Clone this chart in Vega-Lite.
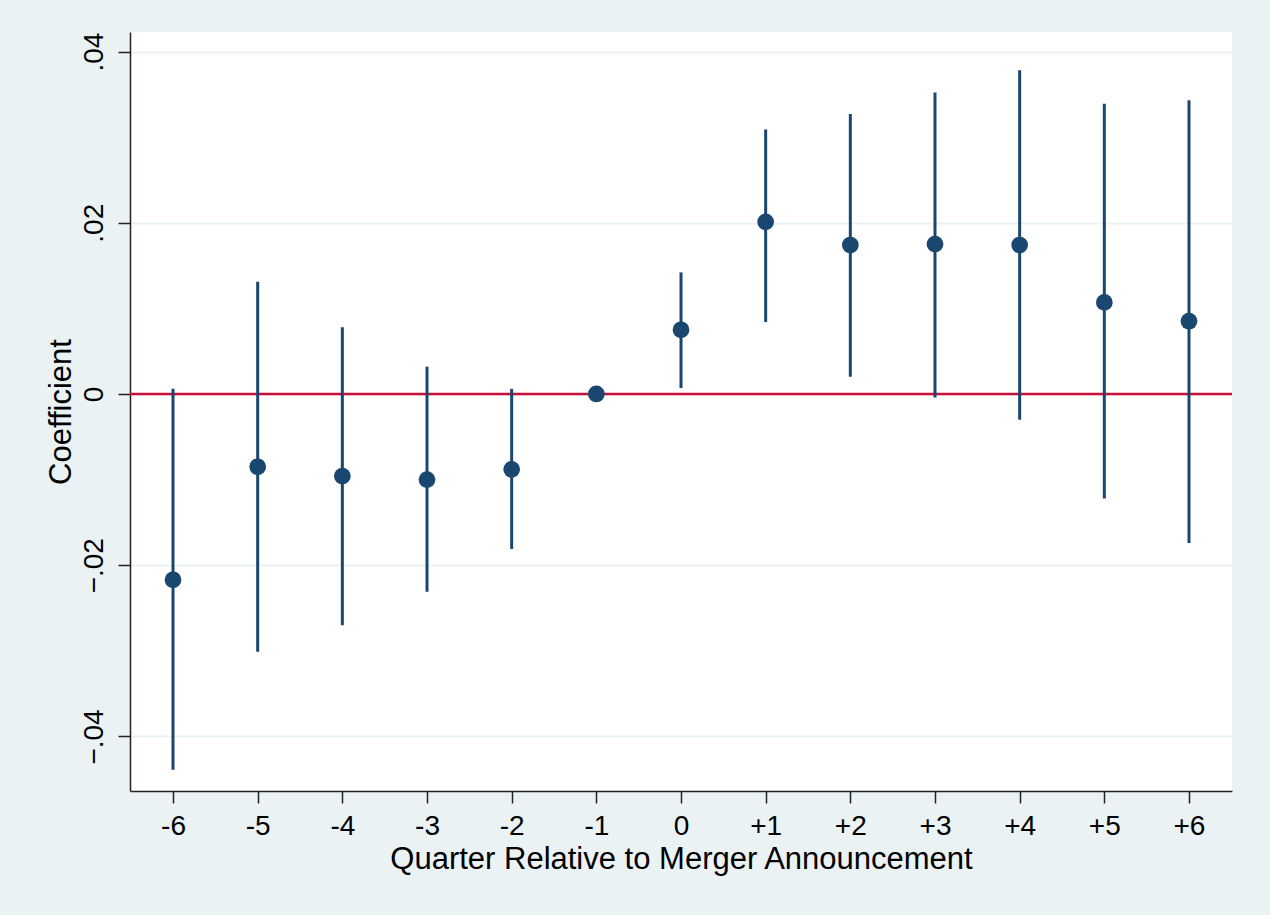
{
  "$schema": "https://vega.github.io/schema/vega-lite/v6.json",
  "autosize": {"type": "none"},
  "width": 1102,
  "height": 759,
  "padding": {"left": 130, "top": 32, "right": 38, "bottom": 124},
  "background": "#eaf2f3",
  "config": {
    "view": {"fill": "white", "stroke": null},
    "font": "Liberation Sans",
    "axis": {
      "labelFont": "Liberation Sans",
      "titleFont": "Liberation Sans",
      "labelColor": "#000000",
      "titleColor": "#000000",
      "titleFontWeight": "normal",
      "domainColor": "#222222",
      "domainWidth": 1.5,
      "tickColor": "#222222",
      "tickWidth": 1.5,
      "tickSize": 12
    }
  },
  "data": {
    "values": [
      {"q": -6, "coef": -0.0217, "lo": -0.0439, "hi": 0.0006},
      {"q": -5, "coef": -0.0085, "lo": -0.0301, "hi": 0.0131},
      {"q": -4, "coef": -0.0096, "lo": -0.0270, "hi": 0.0078},
      {"q": -3, "coef": -0.0100, "lo": -0.0231, "hi": 0.0032},
      {"q": -2, "coef": -0.0088, "lo": -0.0181, "hi": 0.0006},
      {"q": -1, "coef": 0.0, "lo": null, "hi": null},
      {"q": 0, "coef": 0.0075, "lo": 0.0007, "hi": 0.0142},
      {"q": 1, "coef": 0.0201, "lo": 0.0084, "hi": 0.0309},
      {"q": 2, "coef": 0.0174, "lo": 0.0020, "hi": 0.0327},
      {"q": 3, "coef": 0.0175, "lo": -0.0004, "hi": 0.0352},
      {"q": 4, "coef": 0.0174, "lo": -0.0030, "hi": 0.0378},
      {"q": 5, "coef": 0.0107, "lo": -0.0122, "hi": 0.0339},
      {"q": 6, "coef": 0.0085, "lo": -0.0174, "hi": 0.0343}
    ]
  },
  "layer": [
    {
      "data": {"values": [{"zero": 0}]},
      "mark": {"type": "rule", "color": "#c8103a", "strokeWidth": 2.5},
      "encoding": {
        "y": {
          "field": "zero",
          "type": "quantitative",
          "scale": {"domain": [-0.04637, 0.04228], "nice": false, "zero": false},
          "axis": {
            "title": "Coefficient",
            "values": [-0.04, -0.02, 0, 0.02, 0.04],
            "labelExpr": "datum.value == 0 ? '0' : replace(format(datum.value, '.2f'), '0.', '.')",
            "labelAngle": -90,
            "labelAlign": "center",
            "labelBaseline": "bottom",
            "labelFontSize": 28,
            "labelPadding": 10,
            "titleFontSize": 31,
            "titlePadding": 3,
            "grid": true,
            "gridColor": "#eaf2f3",
            "gridWidth": 2
          }
        }
      }
    },
    {
      "transform": [{"filter": "datum.lo != null"}],
      "mark": {"type": "rule", "color": "#1a476f", "strokeWidth": 3},
      "encoding": {
        "x": {"field": "q", "type": "quantitative"},
        "y": {"field": "lo", "type": "quantitative"},
        "y2": {"field": "hi"}
      }
    },
    {
      "mark": {"type": "point", "shape": "circle", "filled": true, "opacity": 1, "color": "#1a476f", "size": 280},
      "encoding": {
        "x": {
          "field": "q",
          "type": "quantitative",
          "scale": {"domain": [-6.508, 6.508], "nice": false, "zero": false},
          "axis": {
            "title": "Quarter Relative to Merger Announcement",
            "values": [-6, -5, -4, -3, -2, -1, 0, 1, 2, 3, 4, 5, 6],
            "labelExpr": "datum.value > 0 ? '+' + datum.value : '' + datum.value",
            "labelFontSize": 28,
            "labelPadding": 9,
            "titleFontSize": 31,
            "titlePadding": 4,
            "grid": false
          }
        },
        "y": {"field": "coef", "type": "quantitative"}
      }
    }
  ]
}
